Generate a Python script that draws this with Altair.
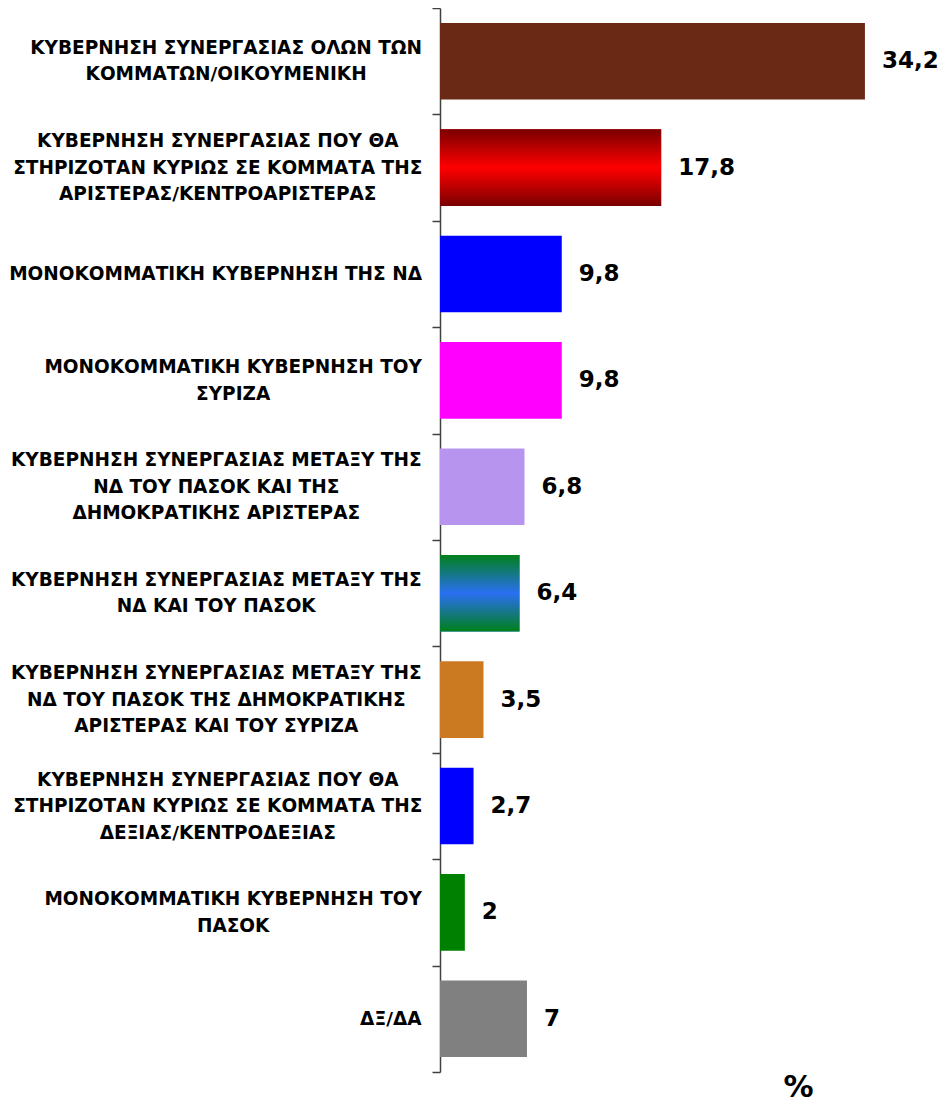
import altair as alt
import pandas as pd

categories = [
    "ΚΥΒΕΡΝΗΣΗ ΣΥΝΕΡΓΑΣΙΑΣ ΟΛΩΝ ΤΩΝ|ΚΟΜΜΑΤΩΝ/ΟΙΚΟΥΜΕΝΙΚΗ",
    "ΚΥΒΕΡΝΗΣΗ ΣΥΝΕΡΓΑΣΙΑΣ ΠΟΥ ΘΑ|ΣΤΗΡΙΖΟΤΑΝ ΚΥΡΙΩΣ ΣΕ ΚΟΜΜΑΤΑ ΤΗΣ|ΑΡΙΣΤΕΡΑΣ/ΚΕΝΤΡΟΑΡΙΣΤΕΡΑΣ",
    "ΜΟΝΟΚΟΜΜΑΤΙΚΗ ΚΥΒΕΡΝΗΣΗ ΤΗΣ ΝΔ",
    "ΜΟΝΟΚΟΜΜΑΤΙΚΗ ΚΥΒΕΡΝΗΣΗ ΤΟΥ|ΣΥΡΙΖΑ",
    "ΚΥΒΕΡΝΗΣΗ ΣΥΝΕΡΓΑΣΙΑΣ ΜΕΤΑΞΥ ΤΗΣ|ΝΔ ΤΟΥ ΠΑΣΟΚ ΚΑΙ ΤΗΣ|ΔΗΜΟΚΡΑΤΙΚΗΣ ΑΡΙΣΤΕΡΑΣ",
    "ΚΥΒΕΡΝΗΣΗ ΣΥΝΕΡΓΑΣΙΑΣ ΜΕΤΑΞΥ ΤΗΣ|ΝΔ ΚΑΙ ΤΟΥ ΠΑΣΟΚ",
    "ΚΥΒΕΡΝΗΣΗ ΣΥΝΕΡΓΑΣΙΑΣ ΜΕΤΑΞΥ ΤΗΣ|ΝΔ ΤΟΥ ΠΑΣΟΚ ΤΗΣ ΔΗΜΟΚΡΑΤΙΚΗΣ|ΑΡΙΣΤΕΡΑΣ ΚΑΙ ΤΟΥ ΣΥΡΙΖΑ",
    "ΚΥΒΕΡΝΗΣΗ ΣΥΝΕΡΓΑΣΙΑΣ ΠΟΥ ΘΑ|ΣΤΗΡΙΖΟΤΑΝ ΚΥΡΙΩΣ ΣΕ ΚΟΜΜΑΤΑ ΤΗΣ|ΔΕΞΙΑΣ/ΚΕΝΤΡΟΔΕΞΙΑΣ",
    "ΜΟΝΟΚΟΜΜΑΤΙΚΗ ΚΥΒΕΡΝΗΣΗ ΤΟΥ|ΠΑΣΟΚ",
    "ΔΞ/ΔΑ",
]
values = [34.2, 17.8, 9.8, 9.8, 6.8, 6.4, 3.5, 2.7, 2.0, 7.0]
value_labels = ["34,2", "17,8", "9,8", "9,8", "6,8", "6,4", "3,5", "2,7", "2", "7"]
bar_colors = ["#6A2915", "#FF0000", "#0000FF", "#FF00FF", "#B794EE",
              "#2A6FF2", "#CC7A22", "#0000FF", "#008000", "#808080"]

LABEL_SIZE = 18.5
LINE_H = 26.5
FONT = "DejaVu Sans"

# approximate glyph advance widths (em) of DejaVu Sans Bold, used to centre label blocks
EM = {"Α": .774, "Β": .762, "Γ": .637, "Δ": .774, "Ε": .683, "Ζ": .686, "Η": .837,
      "Θ": .850, "Ι": .372, "Κ": .776, "Λ": .774, "Μ": .995, "Ν": .837, "Ξ": .683,
      "Ο": .850, "Π": .837, "Ρ": .733, "Σ": .683, "Τ": .682, "Υ": .724, "Φ": .850,
      "Χ": .775, "Ψ": .850, "Ω": .850, " ": .348, "/": .365}


def block_width(label):
    return max(sum(EM.get(c, .75) for c in line) for line in label.split("|")) * LABEL_SIZE


df = pd.DataFrame({
    "cat": categories,
    "value": values,
    "vlabel": value_labels,
    "lw": [block_width(c) for c in categories],
    "nl": [len(c.split("|")) for c in categories],
})

y_main = alt.Y(
    "cat:N", sort=categories, title=None,
    scale=alt.Scale(paddingInner=0, paddingOuter=0),
    axis=alt.Axis(labels=False, ticks=True, tickBand="extent", tickSize=8,
                  tickColor="#404040", tickWidth=1.5, domain=True,
                  domainColor="#404040", domainWidth=1.5, grid=False),
)
y_plain = alt.Y("cat:N", sort=categories)
x_main = alt.X(
    "value:Q", scale=alt.Scale(domain=[0, 40], nice=False),
    axis=alt.Axis(labels=False, ticks=False, domain=False, grid=False, title="%",
                  titleFontSize=30, titleFont=FONT, titleFontWeight="bold",
                  titleColor="black", titleX=358, titleY=24, titleAlign="center",
                  titleBaseline="alphabetic"),
)

base = alt.Chart(df)
band = alt.RelativeBandSize(band=0.72)

bars = base.mark_bar(height=band).encode(
    x=x_main, y=y_main,
    color=alt.Color("cat:N", scale=alt.Scale(domain=categories, range=bar_colors), legend=None),
)

red_grad = alt.Gradient(
    gradient="linear", x1=0, x2=0, y1=0, y2=1,
    stops=[alt.GradientStop(color="#7A0000", offset=0),
           alt.GradientStop(color="#FF0000", offset=0.5),
           alt.GradientStop(color="#7A0000", offset=1)],
)
green_grad = alt.Gradient(
    gradient="linear", x1=0, x2=0, y1=0, y2=1,
    stops=[alt.GradientStop(color="#00801A", offset=0),
           alt.GradientStop(color="#2A6FF2", offset=0.5),
           alt.GradientStop(color="#00801A", offset=1)],
)

red_bar = base.transform_filter(alt.datum.cat == categories[1]).mark_bar(
    height=band, fill=red_grad).encode(x="value:Q", y=y_plain)
green_bar = base.transform_filter(alt.datum.cat == categories[5]).mark_bar(
    height=band, fill=green_grad).encode(x="value:Q", y=y_plain)

value_text = base.mark_text(
    align="left", baseline="middle", dx=17, fontSize=23, fontWeight="bold",
    font=FONT, color="black",
).encode(x="value:Q", y=y_plain, text="vlabel:N")

cat_text = base.mark_text(
    align="center", baseline="middle", fontSize=LABEL_SIZE, fontWeight="bold",
    font=FONT, color="black", lineBreak="|", lineHeight=LINE_H,
    x=alt.ExprRef(expr="-18 - datum.lw / 2"),
    dy=alt.ExprRef(expr=f"-(datum.nl - 1) * {LINE_H / 2}"),
).encode(y=y_plain, text="cat:N")

chart = alt.layer(bars, red_bar, green_bar, value_text, cat_text).properties(
    width=497, height=1064, background="white",
    padding={"left": 432, "top": 0, "right": 2, "bottom": 32},
    autosize=alt.AutoSizeParams(type="none"),
).configure_view(stroke=None)

chart.save("out.html", embed_options={"renderer": "svg", "actions": False})
